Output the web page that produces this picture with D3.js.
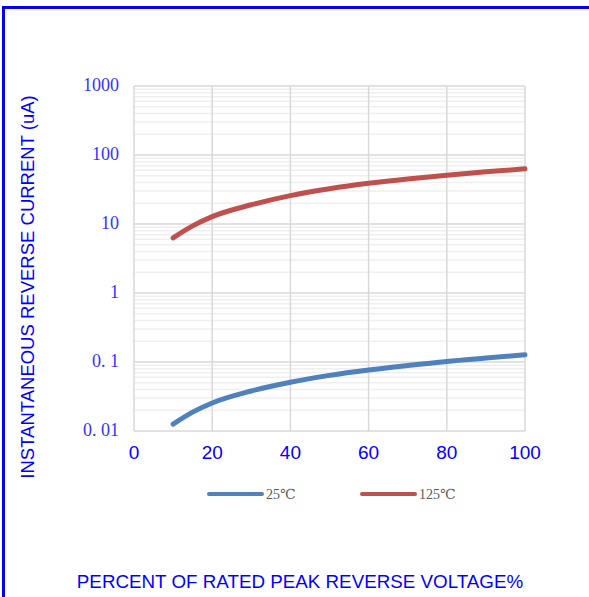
<!DOCTYPE html>
<html><head><meta charset="utf-8">
<script src="https://cdn.jsdelivr.net/npm/d3@7"></script>
<style>html,body{margin:0;padding:0;background:#fff;}svg{display:block;}</style>
</head><body>
<script>
const xTicks = [0, 20, 40, 60, 80, 100];
const yTicks = [0.01, 0.1, 1, 10, 100, 1000];
const yTickLabels = ["0. 01", "0. 1", "1", "10", "100", "1000"];
const voltagePct = [10, 15, 20, 30, 40, 50, 60, 70, 80, 90, 100];
const current25 = [0.0126, 0.0188, 0.0255, 0.038, 0.051, 0.064, 0.0766, 0.089, 0.102, 0.114, 0.127];
const current125 = [6.3, 9.4, 12.8, 19.0, 25.8, 32.5, 39, 45, 51, 57, 63];
const seriesNames = ["25℃", "125℃"];
const seriesColors = ["#4f81bd", "#c0504d"];

const W = 589, H = 597;
const svg = d3.select("body").append("svg").attr("width", W).attr("height", H);

// outer blue frame
svg.append("rect").attr("x", 3.5).attr("y", 7.5).attr("width", W + 10).attr("height", H + 10)
  .attr("fill", "none").attr("stroke", "#0000ff").attr("stroke-width", 3);

const x = d3.scaleLinear().domain([0, 100]).range([134, 525]);
const y = d3.scaleLog().domain([0.01, 1000]).range([431, 86]);

// minor gridlines
const minor = [];
for (let e = -2; e < 3; e++) for (let k = 2; k <= 9; k++) minor.push(k * Math.pow(10, e));
svg.append("g").selectAll("line").data(minor).join("line")
  .attr("x1", x(0)).attr("x2", x(100))
  .attr("y1", d => y(d)).attr("y2", d => y(d))
  .attr("stroke", "#efefef").attr("stroke-width", 1.5);

// major horizontal
svg.append("g").selectAll("line").data(yTicks).join("line")
  .attr("x1", x(0)).attr("x2", x(100))
  .attr("y1", d => y(d)).attr("y2", d => y(d))
  .attr("stroke", "#d9d9d9").attr("stroke-width", 1.5);

// vertical gridlines
svg.append("g").selectAll("line").data(xTicks).join("line")
  .attr("x1", d => x(d)).attr("x2", d => x(d))
  .attr("y1", y(1000)).attr("y2", y(0.01))
  .attr("stroke", "#d9d9d9").attr("stroke-width", 1.5);

// y tick labels
svg.append("g").selectAll("text").data(yTicks).join("text")
  .attr("x", 119).attr("y", d => y(d)).attr("dy", "0.3em")
  .attr("text-anchor", "end")
  .attr("font-family", "'Liberation Serif', 'DejaVu Serif', serif").attr("font-size", 18)
  .attr("fill", "#3333ff")
  .text((d, i) => yTickLabels[i]);

// x tick labels
svg.append("g").selectAll("text").data(xTicks).join("text")
  .attr("x", d => x(d)).attr("y", 459)
  .attr("text-anchor", "middle")
  .attr("font-family", "'Liberation Sans', Arial, sans-serif").attr("font-size", 19)
  .attr("fill", "#0000ff")
  .text(d => d);

// lines
const line = d3.line().x(d => x(d[0])).y(d => y(d[1])).curve(d3.curveMonotoneX);
[current25, current125].forEach((vals, i) => {
  svg.append("path").datum(voltagePct.map((v, j) => [v, vals[j]]))
    .attr("d", line).attr("fill", "none")
    .attr("stroke", seriesColors[i]).attr("stroke-width", 5)
    .attr("stroke-linecap", "round").attr("stroke-linejoin", "round");
});

// legend
const legX = [209, 362];
seriesNames.forEach((n, i) => {
  svg.append("line").attr("x1", legX[i]).attr("x2", legX[i] + 53)
    .attr("y1", 494).attr("y2", 494)
    .attr("stroke", seriesColors[i]).attr("stroke-width", 4).attr("stroke-linecap", "round");
  svg.append("text").attr("x", legX[i] + 57).attr("y", 499)
    .attr("font-family", "'Liberation Serif', 'DejaVu Serif', serif").attr("font-size", 14)
    .attr("fill", "#595959").text(n);
});

// axis titles
svg.append("text").attr("transform", "translate(34,287) rotate(-90)")
  .attr("text-anchor", "middle")
  .attr("font-family", "'Liberation Sans', Arial, sans-serif").attr("font-size", 18.5)
  .attr("fill", "#0000ff").text("INSTANTANEOUS REVERSE CURRENT (uA)");

svg.append("text").attr("x", 300).attr("y", 588)
  .attr("text-anchor", "middle")
  .attr("font-family", "'Liberation Sans', Arial, sans-serif").attr("font-size", 18.8)
  .attr("fill", "#0000ff").text("PERCENT OF RATED PEAK REVERSE VOLTAGE%");
</script>
</body></html>
